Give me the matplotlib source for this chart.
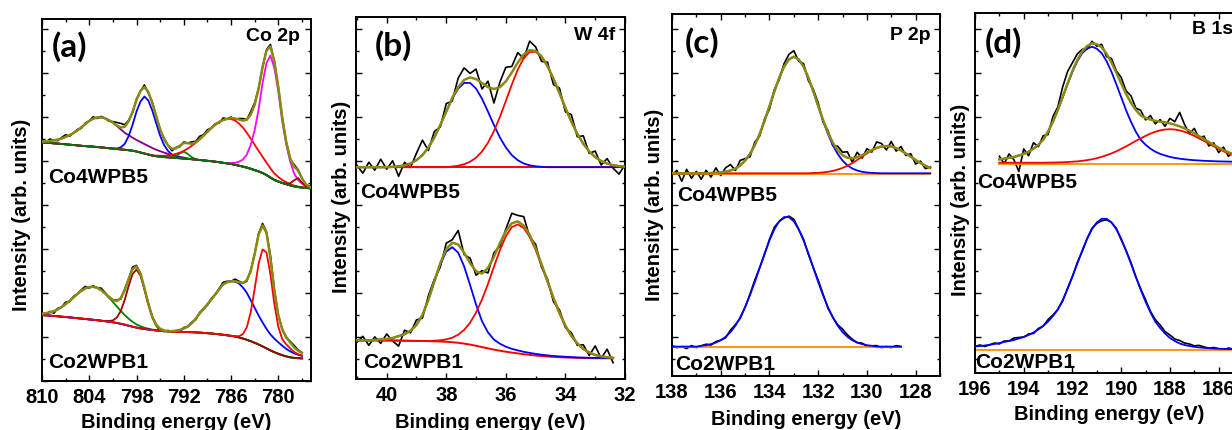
#!/usr/bin/env python3
"""XPS core-level spectra (Co 2p, W 4f, P 2p, B 1s) of Co4WPB5 and Co2WPB1."""

import matplotlib
matplotlib.use("Agg")
import matplotlib.pyplot as plt
import numpy as np
from matplotlib.ticker import MultipleLocator

plt.rcParams["font.family"] = ["Liberation Sans", "DejaVu Sans"]
plt.rcParams["font.weight"] = "bold"
plt.rcParams["axes.labelweight"] = "bold"

SAMPLES = ["Co4WPB5", "Co2WPB1"]
OLIVE = "#8a8a10"

# ---------------- (a) Co 2p : 0.5 eV steps, intensity in arb. units ----------------
energy_a = np.linspace(810, 776, 69)
bg_a_top = [238.5, 238.2, 238.0, 237.7, 237.4, 237.0, 236.7, 236.3, 236.0, 235.6,
            235.2, 234.9, 234.6, 234.3, 234.0, 233.6, 233.2, 232.8, 232.4, 232.0,
            231.6, 231.2, 230.8, 230.3, 229.5, 228.5, 227.5, 226.5, 225.5, 224.8,
            224.3, 223.9, 223.6, 223.3, 223.0, 222.7, 222.4, 222.1, 221.8, 221.4,
            221.0, 220.6, 220.2, 219.8, 219.3, 218.8, 218.2, 217.6, 217.0, 216.2,
            215.3, 214.4, 213.4, 212.2, 210.9, 209.6, 208.0, 206.0, 203.5, 201.0,
            199.5, 198.0, 196.8, 195.6, 194.7, 194.0, 193.4, 193.0, 192.7]
purple_a_top = [1, 1.5, 2, 3, 4, 5.5, 7.5, 9.5, 12, 15, 18.5, 22, 25.5, 28, 29.5, 30,
                29.5, 28, 26, 23, 20, 17, 15, 13, 11.5, 10.5, 9.5, 8.5, 7.5, 6.5,
                5.5, 4.5, 3.5, 2.5, 2, 1.5, 1, 0.5]                      # from 810
blue_a_top = [0.5, 2, 6, 14, 26, 40, 51, 57, 54, 45, 33, 21, 12, 6.5, 3, 1.5, 0.5]  # from 800.5
green_a_top = [0.5, 2, 5, 7, 5, 2, 0.5]                                   # from 793.5
red_a_top = [0.6, 0.9, 1.3, 2.0, 2.9, 4.1, 5.7, 7.7, 10.3, 13.3, 16.7, 20.6, 24.8,
             29.0, 33.2, 37.0, 40.3, 42.8, 44.5, 45.0, 44.3, 42.2, 39.0, 34.9, 30.2,
             25.3, 20.6, 16.2, 12.4, 9.1, 6.5, 4.5, 3.0, 2.0, 1.2, 0.8, 0.5, 0.3,
             0.2, 0.1]                                                     # from 795.5
magenta_a_top = [1, 2, 4, 7, 13, 24, 40, 62, 90, 112, 122, 112, 90, 62, 40, 24, 13,
                 7, 4, 2, 1]                                               # from 786
darkred_a_top = [0.5, 2, 6, 9, 5, 1.5, 0.3]                               # from 779
noise_a_top = [1, -1, 2, 0, -1, 1, 2, -1, 0, 1, -1, 1, 0, 2, -1, 1, 0, -1, 1, 3,
               4, 2, 1, -1, 1, 0, 2, -1, 1, 0, -1, 1, 0, -2, 1, -1, 1, 0, 2, 1,
               3, 1, 2, 0, 1, -1, 2, 0, 1, -1, 1, 2, 0, 3, 2, 1, -1, 1, 2, 0,
               -1, 1, 0, -1, 2, 1, 0, -1, 1]

bg_a_bot = [66.0, 65.7, 65.4, 65.0, 64.7, 64.3, 64.0, 63.6, 63.2, 62.8,
            62.4, 62.0, 61.6, 61.2, 60.8, 60.3, 59.8, 59.3, 58.7, 58.0,
            57.2, 56.3, 55.3, 54.3, 53.4, 52.6, 52.0, 51.5, 51.0, 50.6,
            50.2, 49.9, 49.6, 49.4, 49.2, 49.1, 49.0, 48.9, 48.8, 48.6,
            48.4, 48.1, 47.8, 47.5, 47.1, 46.7, 46.2, 45.7, 45.2, 44.5,
            43.6, 42.5, 41.2, 39.8, 38.2, 36.5, 34.6, 32.6, 30.6, 28.8,
            27.2, 25.8, 24.6, 23.7, 23.1, 22.8, 22.6]
green_a_bot = [1.3, 2.1, 3.2, 4.8, 7.0, 9.6, 12.9, 16.5, 20.4, 24.3, 27.8, 30.6,
               32.4, 33, 32.4, 30.6, 27.8, 24.3, 20.4, 16.5, 12.9, 9.6, 7.0, 4.8,
               3.2, 2.1, 1.3, 0.8, 0.4, 0.2]                               # from 810
darkred_a_bot = [0.6, 1.9, 5.5, 12.8, 24.8, 39.7, 52.8, 58, 52.8, 39.7, 24.8, 12.8,
                 5.5, 1.9, 0.6]                                            # from 801.5
blue_a_bot = [0.5, 1, 2, 3.5, 5.5, 9, 13.5, 19, 24, 29, 34, 39.5, 45, 50.5, 53,
              54.5, 55, 54, 51, 47, 41, 35, 29, 24, 19.5, 16, 13.5, 11.5, 9.5,
              7.5, 6, 4.5, 3.5, 2.5]                                       # from 793.5
red_a_bot = [0.3, 1.2, 4.4, 12.6, 29, 54, 81, 97, 96, 76, 48, 27, 16, 12, 9, 6, 4, 3]  # from 785.5
noise_a_bot = [0, -1, 1, -2, 1, 0, 2, -1, 1, 0, 1, 2, -1, 1, 0, 2, 1, -1, 0, 1,
               -1, 1, 0, 2, 1, 0, -1, 1, 0, -1, -2, -1, 1, -1, 0, -2, 1, 0, 1, -1,
               1, 0, -1, 1, 0, 1, 2, 1, 0, 2, 1, 0, -1, 1, 0, 1, 2, 1, 3, 1,
               0, 1, -1, 1, 2, 1, 0]

# ---------------- (b) W 4f : 0.2 eV steps ----------------
energy_b_top = np.linspace(41.0, 32.0, 46)
bg_b_top = 213.8
blue_b_top = [0.4, 0.9, 1.9, 3.7, 7.0, 12.1, 19.7, 29.8, 42.2, 55.6, 68.5, 78.6, 84.3,
              84.3, 78.6, 68.5, 55.6, 42.2, 29.8, 19.7, 12.1, 7.0, 3.7, 1.9, 0.9, 0.4]  # from 39.8
red_b_top = [0.7, 1.5, 3.0, 5.5, 9.5, 15.7, 24.4, 36.0, 50.2, 66.2, 82.6, 97.6, 109.0,
             115.2, 115.4, 110.4, 101.0, 88.5, 74.1, 59.3, 45.5, 33.4, 23.4, 15.8,
             10.1, 6.2, 3.6, 2.0, 1.1, 0.6]                                # from 37.8
noise_b_top = [2, -6, 5, -3, 8, -2, 6, -10, 3, -4, 7, 15, -3, 6, -2, 8, -3, 9, 12, 4,
               10, -6, 6, -14, 5, 14, 6, 10, -4, 9, 4, -5, 4, -6, 5, -4, 7, -3, 8, -2,
               6, -4, 5, -3, -8, 2]

energy_b_bot = np.linspace(41.0, 32.4, 44)
bg_b_bot = [40.7, 40.7, 40.7, 40.6, 40.6, 40.5, 40.5, 40.4, 40.3, 40.2,
            40.1, 40.0, 39.9, 39.7, 39.5, 39.2, 38.8, 38.2, 37.4, 36.4,
            35.2, 33.9, 32.6, 31.4, 30.3, 29.3, 28.4, 27.6, 26.8, 26.1,
            25.5, 25.0, 24.5, 24.1, 23.8, 23.5, 23.3, 23.1, 23.0, 22.9,
            22.8, 22.8, 22.7, 22.7]
blue_b_bot = [0.5, 1, 1.5, 2.5, 4.5, 6.5, 10, 16, 25.9, 41.3, 59.5, 77.2, 90.2, 95,
              90.2, 77.2, 59.5, 41.3, 25.9, 16, 10, 7, 5, 3.8, 3, 2.4, 2, 1.6, 1.3,
              1.1, 0.9, 0.8, 0.7, 0.6, 0.5, 0.4, 0.3, 0.3, 0.2, 0.2, 0.1]  # from 40.4
red_b_bot = [0.6, 1.2, 2.4, 4.5, 8.1, 13.7, 21.9, 33.3, 47.6, 64.5, 82.8, 100.5, 115.5,
             125.5, 129, 126.2, 118.0, 105.6, 90.4, 74.2, 58.1, 43.6, 31.2, 21.4,
             14.1, 8.8, 5.3, 3.0, 1.7, 0.9, 0.45]                          # from 38.4
noise_b_bot = [-2, 4, -5, 3, -4, 5, -3, -10, 4, -2, 5, -3, 4, 2, -4, 6, 3, 14, -2, 5,
               -4, 3, -5, 4, -3, 2, 10, 6, 9, -2, 4, -3, 2, -4, 3, -2, 3, -2, 4, -3,
               9, -2, 8, -5]

# ---------------- (c) P 2p : 0.2 eV steps ----------------
energy_c_top = np.linspace(138.0, 127.4, 54)
bg_c_top = 207.7
base_c_top = 207.0
blue_c_top = [0.2, 0.4, 0.8, 1.5, 2.8, 4.8, 7.9, 12.7, 19.4, 28.2, 39.4, 52.5, 67.0,
              81.7, 95.5, 106.7, 114.0, 116.6, 114.0, 106.7, 95.5, 81.7, 67.0, 52.5,
              39.4, 28.2, 19.4, 12.7, 7.9, 4.8, 2.8, 1.5, 0.8, 0.4, 0.2]   # from 136.4
red_c_top = [0.3, 0.5, 0.9, 1.5, 2.4, 3.7, 5.4, 7.6, 10.2, 13.3, 16.6, 19.8, 22.8, 25.2,
             26.8, 27.3, 26.8, 25.2, 22.8, 19.8, 16.6, 13.3, 10.2, 7.6, 5.4]  # from 132.2
noise_c_top = [-2, 3, -8, 4, -5, 2, -6, 3, -4, 5, -3, 4, 6, -2, 5, 2, -3, 3, -2, 2,
               -3, 2, -2, 3, 5, 6, -2, 3, -3, 2, 3, -2, 2, -3, 4, 3, 6, -4, 5, -3,
               4, -2, 6, 3, -4, 5, -3, 4, -2, 3, -4, 2, -3, 1]

energy_c_bot = np.linspace(138.0, 128.6, 48)
base_c_bot = 34.4
blue_c_bot = [0.8, 1.4, 2.5, 4.0, 6.4, 9.8, 14.5, 20.9, 29.3, 39.4, 51.4, 64.6, 78.9,
              93.1, 106.2, 117.3, 125.3, 129.5, 129.5, 125.3, 117.3, 106.2, 93.1,
              78.9, 64.6, 51.4, 39.4, 29.3, 20.9, 14.5, 9.8, 6.4, 4.0, 2.5, 1.4, 0.8]  # from 136.8
noise_c_bot = [1, -1, 0, -2, 1, -1, 0, 1, -1, 1, 0, -1, 2, 1, -1, 0, 1, 2, 0, -1,
               1, 2, 0, -1, 1, 2, 0, 1, -1, 0, 2, 1, -1, 0, 1, 3, 2, 1, 0, 1,
               -1, 0, 1, -1, 0, -1, 1, 0]

# ---------------- (d) B 1s : 0.2 eV steps ----------------
energy_d_top = np.linspace(195.0, 185.4, 49)
bg_d_top = 218.3
base_d_top = 217.0
blue_d_top = [3.4, 4.0, 4.8, 5.8, 7.2, 8.8, 11, 14, 18, 23, 31, 41, 52.5, 65.5, 78.5,
              91, 101.5, 109.5, 114, 116, 114, 109.5, 101.5, 91, 78.5, 65.5, 52.5,
              41, 31, 23, 18, 14, 11, 8.8, 7.2, 5.8, 4.8, 4.0, 3.4, 2.9, 2.5, 2.2,
              1.9, 1.7, 1.5, 1.3, 1.2, 1.1, 1.0]                           # from 195.0
red_d_top = [0.1, 0.2, 0.3, 0.45, 0.7, 1.0, 1.3, 1.9, 2.6, 3.4, 4.5, 5.9, 7.5, 9.3,
             11.4, 13.8, 16.3, 19.0, 21.7, 24.3, 26.8, 29.1, 30.9, 32.3, 33.2, 33.5,
             33.2, 32.3, 30.9, 29.1, 26.8, 24.3, 21.7, 19.0, 16.3, 13.8, 11.4, 9.3, 7.5]  # from 193.0
noise_d_top = [3, -5, 4, -3, -16, 5, -4, 6, -2, 4, -3, 5, 3, 10, 12, 8, 6, 2, -3, 2,
               -2, 3, -3, 4, 2, 6, 3, 7, 2, 5, -2, 4, -3, 2, -4, 5, 3, 14, 4, -3,
               5, -2, 3, -4, 2, -5, 3, -4, 2]

energy_d_bot = np.linspace(196.0, 185.4, 54)
base_d_bot = 31.0
blue_d_bot = [3.5, 4.0, 4.5, 5.2, 6.0, 7.0, 8.0, 9.0, 10.0, 11.5, 13, 15, 17.5, 20.5,
              24, 28.5, 34, 40.5, 50, 61, 73.5, 86.5, 99.4, 111.2, 120.8, 127.6, 131.2,
              131.2, 127.6, 120.8, 111.2, 99.4, 86.5, 73.2, 60.3, 48.3, 37.7, 28.4, 22,
              16.5, 12, 9, 6.5, 5, 4, 3.2, 2.6, 2.1, 1.8, 1.5, 1.3, 1.1, 1.0, 0.9]  # from 196.0
noise_d_bot = [0, 1, -1, 0, 1, -1, 1, 0, 2, 1, 0, 1, -1, 1, 0, 2, 1, 0, -1, 1,
               0, 1, -1, 0, 1, -1, -2, -1, 0, 1, -1, 0, 1, 0, 1, 2, 1, 2, 3, 2,
               3, 2, 3, 2, 2, 1, 2, 1, 0, 1, 0, -1, 1, 0]


def on_grid(grid, start, values):
    """Put a component listed from energy `start` onto the full grid, zero elsewhere."""
    step = grid[0] - grid[1]
    i = int(round((grid[0] - start) / step))
    out = np.zeros(len(grid))
    out[i:i + len(values)] = values
    return out


def draw_spectrum(ax, energy, background, components, noise, bg_color=None,
                  envelope=True, bg_on_top=False):
    background = np.broadcast_to(np.asarray(background, dtype=float), energy.shape)
    total = background.copy()
    for start, values, color in components:
        peak = on_grid(energy, start, values)
        total = total + peak
        ax.plot(energy, background + peak, color=color, lw=1.3, zorder=3)
    if bg_color:
        ax.plot(energy, background, color=bg_color, lw=1.4,
                zorder=3.5 if bg_on_top else 2.5)
    ax.plot(energy, total + np.asarray(noise), color="black", lw=1.2, zorder=2)
    if envelope:
        ax.plot(energy, total, color=OLIVE, lw=1.8, zorder=4)


def style(ax, xlim, ylim, ticks, minor):
    ax.set_xlim(*xlim)
    ax.set_ylim(*ylim)
    ax.set_xticks(ticks)
    ax.xaxis.set_minor_locator(MultipleLocator(minor))
    ax.yaxis.set_major_locator(MultipleLocator(44))
    ax.yaxis.set_minor_locator(MultipleLocator(22))
    ax.tick_params(which="both", direction="in", top=True, right=True,
                   labelleft=False, width=1)
    ax.tick_params(which="major", length=4, labelsize=14.5, pad=5)
    ax.tick_params(which="minor", length=2.5)
    for spine in ax.spines.values():
        spine.set_linewidth(1.4)


fig = plt.figure(figsize=(12.32, 4.30), dpi=100)
W, H = 1232, 430


def add_axes(left, top, width, height):
    return fig.add_axes([left / W, (H - top - height) / H, width / W, height / H])


ax_a = add_axes(42, 19, 269, 362)
ax_b = add_axes(356, 17, 269, 362)
ax_c = add_axes(672, 14, 268, 362)
ax_d = add_axes(975, 13, 268, 360)

# (a) Co 2p
draw_spectrum(ax_a, energy_a, bg_a_top,
              [(810, purple_a_top, "#800080"), (800.5, blue_a_top, "#0000ff"),
               (793.5, green_a_top, "#008000"), (795.5, red_a_top, "#ff0000"),
               (786, magenta_a_top, "#ff00ff"), (779, darkred_a_top, "#a00000")],
              noise_a_top, bg_color="#0a700a", bg_on_top=True)
energy_a_bot = energy_a[:len(bg_a_bot)]
draw_spectrum(ax_a, energy_a_bot, bg_a_bot,
              [(810, green_a_bot, "#008000"), (801.5, darkred_a_bot, "#a00000"),
               (793.5, blue_a_bot, "#0000ff"), (785.5, red_a_bot, "#ff0000")],
              noise_a_bot, bg_color="#0a700a")
style(ax_a, (810, 775.85), (0, 362), [810, 804, 798, 792, 786, 780], 3)

# (b) W 4f
draw_spectrum(ax_b, energy_b_top, bg_b_top,
              [(39.8, blue_b_top, "#0000ff"), (37.8, red_b_top, "#ff0000")],
              noise_b_top, bg_color="#ff0000")
draw_spectrum(ax_b, energy_b_bot, bg_b_bot,
              [(40.4, blue_b_bot, "#0000ff"), (38.4, red_b_bot, "#ff0000")],
              noise_b_bot, bg_color="#ff0000")
style(ax_b, (41.03, 32), (2, 364), [40, 38, 36, 34, 32], 1)

# (c) P 2p
ax_c.plot(energy_c_top, np.full(len(energy_c_top), base_c_top), color="#ff8c00", lw=1.3, zorder=2.5)
draw_spectrum(ax_c, energy_c_top, bg_c_top,
              [(136.4, blue_c_top, "#0000ff"), (132.2, red_c_top, "#ff0000")],
              noise_c_top)
ax_c.plot(energy_c_bot, np.full(len(energy_c_bot), base_c_bot), color="#ff8c00", lw=1.3, zorder=2.5)
draw_spectrum(ax_c, energy_c_bot, base_c_bot, [(136.8, blue_c_bot, "#0000ff")],
              noise_c_bot, envelope=False)
style(ax_c, (138, 127), (5, 367), [138, 136, 134, 132, 130, 128], 1)

# (d) B 1s
ax_d.plot(energy_d_top, np.full(len(energy_d_top), base_d_top), color="#ff8c00", lw=1.3, zorder=2.5)
draw_spectrum(ax_d, energy_d_top, bg_d_top,
              [(195.0, blue_d_top, "#0000ff"), (193.0, red_d_top, "#ff0000")],
              noise_d_top)
ax_d.plot(energy_d_bot, np.full(len(energy_d_bot), base_d_bot), color="#ff8c00", lw=1.3, zorder=2.5)
draw_spectrum(ax_d, energy_d_bot, base_d_bot, [(196.0, blue_d_bot, "#0000ff")],
              noise_d_bot, envelope=False)
style(ax_d, (196, 185), (8, 368), [196, 194, 192, 190, 188, 186], 1)

# panel letters, core levels and sample names
panels = [
    (ax_a, "(a)", (0.037, 0.923), "Co 2p", (0.96, 0.953), (0.022, 0.562), (0.022, 0.051)),
    (ax_b, "(b)", (0.070, 0.920), "W 4f", (0.963, 0.950), (0.015, 0.515), (0.026, 0.046)),
    (ax_c, "(c)", (0.049, 0.921), "P 2p", (0.963, 0.940), (0.019, 0.499), (0.011, 0.032)),
    (ax_d, "(d)", (0.037, 0.918), "B 1s", (0.963, 0.954), (0.007, 0.529), (0.000, 0.029)),
]
for ax, letter, letter_xy, level, level_xy, top_xy, bot_xy in panels:
    ax.text(*letter_xy, letter, transform=ax.transAxes, ha="left", va="center",
            fontsize=24, fontweight="bold", family=["Lato", "DejaVu Sans"])
    ax.text(*level_xy, level, transform=ax.transAxes, ha="right", va="center",
            fontsize=14)
    ax.text(*top_xy, SAMPLES[0], transform=ax.transAxes, ha="left", va="center",
            fontsize=15)
    ax.text(*bot_xy, SAMPLES[1], transform=ax.transAxes, ha="left", va="center",
            fontsize=15)

# axis titles placed per panel
ylabel_xy = [(22, 215), (341.5, 197), (654, 205), (960, 200)]
xlabel_xy = [(176.5, 412.5), (490.5, 412.8), (806, 410.2), (1109, 404.5)]
for (x, y) in ylabel_xy:
    fig.text(x / W, 1 - y / H, "Intensity (arb. units)", rotation=90,
             ha="center", va="center", fontsize=14.5, fontweight="bold")
for (x, y) in xlabel_xy:
    fig.text(x / W, 1 - y / H, "Binding energy (eV)", ha="center", va="top",
             fontsize=14.5, fontweight="bold")

fig.savefig("out.png", dpi=100)
